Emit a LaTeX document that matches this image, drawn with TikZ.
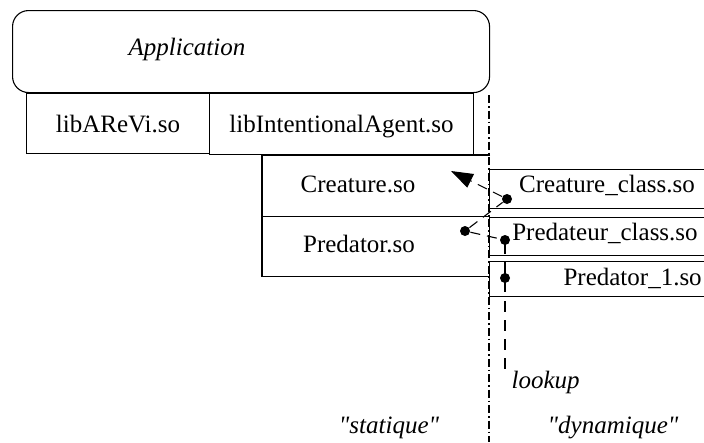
\documentclass[tikz,border=0pt]{standalone}
\usepackage{fontspec}
\setmainfont{Liberation Serif}[Ligatures=TeXOff]
\usetikzlibrary{arrows.meta}
\begin{document}
\begin{tikzpicture}[x=1pt,y=-1pt,
  line width=1.1pt,
  box/.style={draw,inner sep=0pt,anchor=north west},
  area/.style={inner sep=0pt,anchor=north west},
  lbl/.style={font=\fontsize{25}{30}\selectfont,inner sep=0pt,anchor=base},
  ilbl/.style={lbl,font=\fontsize{25}{30}\selectfont\itshape},
  pin/.style={circle,fill,inner sep=0pt,minimum size=10pt},
  link/.style={dash pattern=on 10pt off 7pt},
  border/.style={dash pattern=on 8pt off 3pt on 1.5pt off 3pt},
]
\useasboundingbox (0,0) rectangle (704,442);

% application and static libraries
\node[box,rounded corners=16pt,minimum width=477pt,minimum height=82pt] (app) at (12,10) {};
\node[ilbl] at (187,55) {Application};
\node[box,minimum width=183pt,minimum height=60pt] (arevi) at (26,93) {};
\node[lbl] at (arevi.center |- 0,132) {libAReVi.so};
\node[box,minimum width=264pt,minimum height=61pt] (intag) at (209,93) {};
\node[lbl] at (intag.center |- 0,132) {libIntentionalAgent.so};

% statically linked modules (open on the boundary side)
\node[area,minimum width=227pt,minimum height=60pt] (cre) at (262,155) {};
\node[area,minimum width=227pt,minimum height=60pt] (pred) at (262,215) {};
\draw (cre.north east) -- (cre.north west) -- (pred.south west) -- (pred.south east);
\draw (cre.south west) -- (cre.south east);
\node[lbl] at (358,192) {Creature.so};
\node[lbl] at (359,252) {Predator.so};

% static / dynamic boundary
\coordinate (btop) at (489,95);
\coordinate (bbot) at (489,442);
\draw[border] (btop) -- (bbot);

% dynamically loaded modules
\node[box,minimum width=231pt,minimum height=39pt] (crec) at (489,169) {};
\node[box,minimum width=231pt,minimum height=38pt] (predc) at (489,217) {};
\node[box,minimum width=231pt,minimum height=35pt] (pred1) at (489,261) {};
\node[lbl] at (607,192) {Creature\_class.so};
\node[lbl] at (605,240) {Predateur\_class.so};
\node[lbl,anchor=base west] at (563,285) {Predator\_1.so};

% lookup links
\node[pin] (dcrec) at (507,199) {};
\node[pin] (dpredc) at (505,240) {};
\node[pin] (dpred1) at (505,278) {};
\node[pin] (dpred) at (465,231) {};
\coordinate (tipcre) at (451,171);
\coordinate (lookend) at (505,373);

\draw[link,-{Triangle[length=22pt,width=15pt]}] (dcrec) -- (tipcre);
\draw[link] (dpred) -- (dcrec);
\draw[link] (dpred) -- (dpredc);
\draw[dash pattern=on 14pt off 8pt on 30pt off 9pt on 11pt off 8pt on 11pt off 8pt on 11pt off 8pt on 11pt off 8pt] (dpredc.center) -- (lookend);
\node[ilbl,anchor=base west] at (511,388) {lookup};

% region captions
\node[ilbl] at (389,433) {"statique"};
\node[ilbl] at (613,433) {"dynamique"};
\end{tikzpicture}
\end{document}
